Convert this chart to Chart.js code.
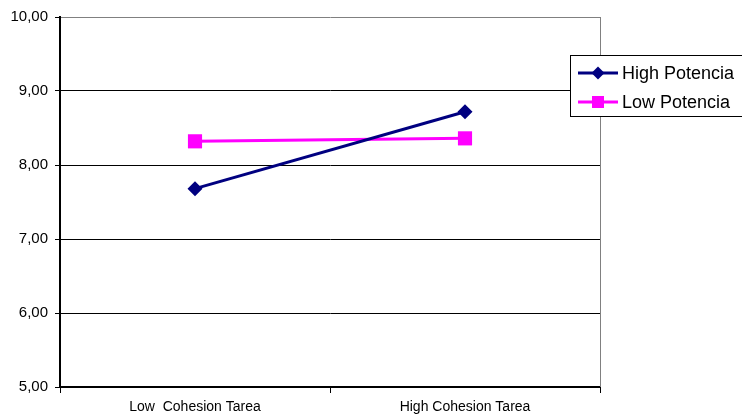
<!DOCTYPE html>
<html>
<head>
<meta charset="utf-8">
<script src="https://cdn.jsdelivr.net/npm/chart.js@4"></script>
<style>
  html, body { margin: 0; padding: 0; background: #fff; }
  #wrap { width: 742px; height: 420px; }
</style>
</head>
<body>
<div id="wrap"><canvas id="chart" width="742" height="420"></canvas></div>
<script>
const categories = ["Low  Cohesion Tarea", "High Cohesion Tarea"]
const highPotencia = [7.68, 8.72]
const lowPotencia = [8.32, 8.36]
const yTicks = [5, 6, 7, 8, 9, 10]

const FONT = "'Liberation Sans', Arial, sans-serif"

// legend box + plot frame drawn by hand, like the spreadsheet original
const frameAndLegend = {
    id: 'frameAndLegend',
    afterDraw(chart) {
        const ctx = chart.ctx
        const area = chart.chartArea
        ctx.save()
        ctx.strokeStyle = '#808080'
        ctx.lineWidth = 1
        ctx.beginPath()
        ctx.moveTo(area.right + 0.5, area.top)
        ctx.lineTo(area.right + 0.5, area.bottom)
        ctx.stroke()

        // legend
        const x0 = 570.5, y0 = 55.5, w = 172, h = 61
        ctx.fillStyle = '#fff'
        ctx.fillRect(x0, y0, w, h)
        ctx.strokeStyle = '#000'
        ctx.strokeRect(x0, y0, w, h)
        ctx.font = '18px ' + FONT
        ctx.textBaseline = 'middle'
        chart.data.datasets.forEach((ds, i) => {
            const y = 73 + i * 29
            ctx.strokeStyle = ds.borderColor
            ctx.lineWidth = 3
            ctx.beginPath()
            ctx.moveTo(578, y)
            ctx.lineTo(618, y)
            ctx.stroke()
            ctx.fillStyle = ds.backgroundColor
            if (ds.pointStyle === 'rectRot') {
                ctx.beginPath()
                ctx.moveTo(598, y - 6.5)
                ctx.lineTo(604.5, y)
                ctx.lineTo(598, y + 6.5)
                ctx.lineTo(591.5, y)
                ctx.closePath()
                ctx.fill()
            } else {
                ctx.fillRect(592, y - 6, 12, 12)
            }
            ctx.fillStyle = '#000'
            ctx.fillText(ds.label, 622, y + 1)
        })
        ctx.restore()
    }
}

new Chart(document.getElementById('chart').getContext('2d'), {
    type: 'line',
    data: {
        labels: categories,
        datasets: [
            {
                label: 'High Potencia',
                data: highPotencia,
                borderColor: '#000080',
                backgroundColor: '#000080',
                borderWidth: 3,
                pointStyle: 'rectRot',
                pointRadius: 7.5,
                pointBorderWidth: 0,
                tension: 0
            },
            {
                label: 'Low Potencia',
                data: lowPotencia,
                borderColor: '#ff00ff',
                backgroundColor: '#ff00ff',
                borderWidth: 3,
                pointStyle: 'rect',
                pointRadius: 10,
                pointBorderWidth: 0,
                tension: 0
            }
        ]
    },
    options: {
        responsive: false,
        animation: false,
        layout: { padding: { top: 17, right: 142, left: 0, bottom: 0 } },
        plugins: {
            legend: { display: false },
            tooltip: { enabled: false }
        },
        scales: {
            x: {
                offset: true,
                afterFit: s => { s.height = 33 },
                grid: {
                    offset: true,
                    drawOnChartArea: false,
                    drawTicks: true,
                    tickLength: 6,
                    tickColor: '#000'
                },
                border: { color: '#000', width: 2 },
                ticks: {
                    color: '#000',
                    padding: 6,
                    maxRotation: 0,
                    font: { family: FONT, size: 14 }
                }
            },
            y: {
                min: 5,
                max: 10,
                afterFit: s => { s.width = 60 },
                afterBuildTicks: s => { s.ticks = yTicks.map(v => ({ value: v })) },
                grid: {
                    color: c => (c.tick && c.tick.value === 10) ? '#808080' : '#000',
                    lineWidth: 1,
                    drawTicks: true,
                    tickLength: 5,
                    tickColor: '#000'
                },
                border: { color: '#000', width: 2 },
                ticks: {
                    color: '#000',
                    padding: 7,
                    font: { family: FONT, size: 15 },
                    callback: v => v.toFixed(2).replace('.', ',')
                }
            }
        }
    },
    plugins: [frameAndLegend]
})
</script>
</body>
</html>
